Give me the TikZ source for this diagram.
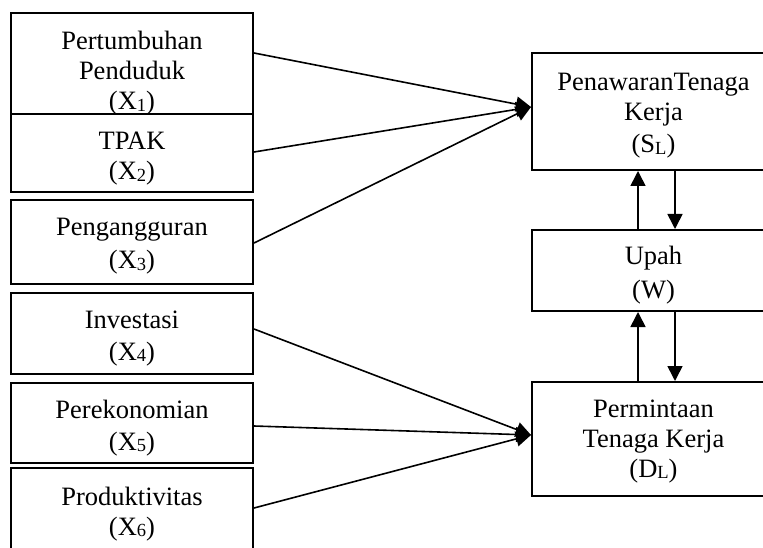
\documentclass[tikz,border=0pt]{standalone}
\usepackage{fontspec}
\setmainfont{Liberation Serif}
\usetikzlibrary{arrows.meta}
\newcommand\lowsub[1]{\raisebox{-1.5pt}{\fontsize{18.5}{18.5}\selectfont #1}}
\begin{document}
\begin{tikzpicture}[x=1pt,y=-1pt,
  box/.style={draw, line width=2pt, inner sep=0pt},
  txt/.style={anchor=base, align=center, inner sep=0pt, font=\fontsize{26.5}{30}\selectfont},
  conn/.style={line width=1.6pt, -{Triangle[length=15pt,width=15pt]}}]
\useasboundingbox[fill=white] (0,0) rectangle (763,548);
% left boxes
\node[box, minimum width=242pt, minimum height=101pt] (b1) at (132,63.5) {};
\node[box, minimum width=242pt, minimum height=78pt] (b2) at (132,153) {};
\node[box, minimum width=242pt, minimum height=84pt] (b3) at (132,242) {};
\node[box, minimum width=242pt, minimum height=81pt] (b4) at (132,333.5) {};
\node[box, minimum width=242pt, minimum height=80pt] (b5) at (132,423) {};
\node[box, minimum width=242pt, minimum height=107pt] (b6) at (132,521.5) {};
% right boxes
\node[box, minimum width=243pt, minimum height=117pt] (sl) at (653.5,111.5) {};
\node[box, minimum width=243pt, minimum height=81pt] (w) at (653.5,270.5) {};
\node[box, minimum width=243pt, minimum height=114pt] (dl) at (653.5,439) {};
% texts (anchored at the baseline of the last line)
\node[txt] (t1) at (132,110) {Pertumbuhan\\Penduduk\\(X\lowsub{1})};
\node[txt] (t2) at (132,180) {TPAK\\(X\lowsub{2})};
\node[txt] (t3) at (132,269) {Pengangguran\\[3pt](X\lowsub{3})};
\node[txt] (t4) at (132,360) {Investasi\\[2pt](X\lowsub{4})};
\node[txt] (t5) at (132,450) {Perekonomian\\[2pt](X\lowsub{5})};
\node[txt] (t6) at (132,535) {Produktivitas\\(X\lowsub{6})};
\node[txt] (tsl) at (653.5,153) {PenawaranTenaga\\Kerja\\[2pt](S\lowsub{L})};
\node[txt] (tw) at (653.5,298) {Upah\\[3pt](W)};
\node[txt] (tdl) at (653.5,477) {Permintaan\\Tenaga Kerja\\(D\lowsub{L})};
% connectors to supply
\draw[conn] (b1.east |- 0,53) -- (sl.west |- 0,107);
\draw[conn] (b2.east |- 0,152) -- (sl.west |- 0,107);
\draw[conn] (b3.east |- 0,243) -- (sl.west |- 0,107);
% connectors to demand
\draw[conn] (b4.east |- 0,329) -- (dl.west |- 0,435);
\draw[conn] (b5.east |- 0,426) -- (dl.west |- 0,435);
\draw[conn] (b6.east |- 0,508) -- (dl.west |- 0,435);
% vertical arrows
\draw[conn] (w.north -| 638,0) -- (sl.south -| 638,0);
\draw[conn] (sl.south -| 675,0) -- (w.north -| 675,0);
\draw[conn] (dl.north -| 638,0) -- (w.south -| 638,0);
\draw[conn] (w.south -| 675,0) -- (dl.north -| 675,0);
\end{tikzpicture}
\end{document}
